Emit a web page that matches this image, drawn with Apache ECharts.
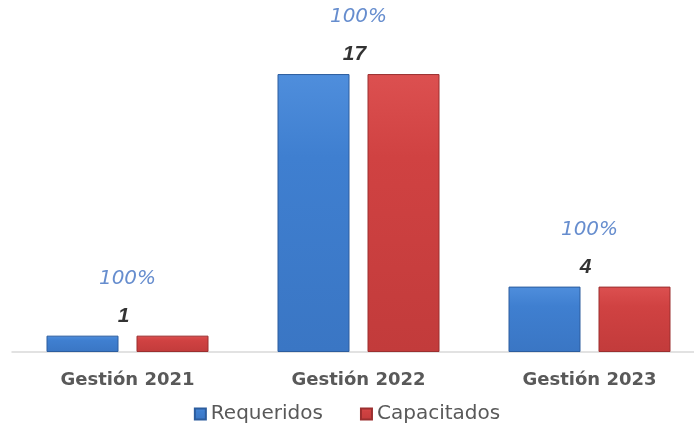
<!DOCTYPE html>
<html>
<head>
<meta charset="utf-8">
<script src="https://cdn.jsdelivr.net/npm/echarts@6/dist/echarts.min.js"></script>
<style>
  html, body { margin: 0; padding: 0; background: #fff; }
  #chart { width: 694px; height: 433px; }
</style>
</head>
<body>
<div id="chart"></div>
<script>
const categories = ['Gestión 2021', 'Gestión 2022', 'Gestión 2023']
const requeridos = [1, 17, 4]
const capacitados = [1, 17, 4]
// porcentaje de cumplimiento = capacitados / requeridos
const percents = requeridos.map((r, i) => Math.round(capacitados[i] / r * 100))

const chart = echarts.init(document.getElementById('chart'))

const grad = (top, mid, bottom) => new echarts.graphic.LinearGradient(0, 0, 0, 1, [
  { offset: 0, color: top },
  { offset: 0.3, color: mid },
  { offset: 1, color: bottom },
])

chart.setOption({
  animation: false,
  grid: { left: 12, right: -11, top: 25, bottom: 81, outerBoundsMode: 'none' },
  legend: {
    bottom: 4,
    left: 'center',
    icon: 'rect',
    itemWidth: 11,
    itemHeight: 11,
    itemGap: 37,
    textStyle: { color: '#595959', fontSize: 20, fontFamily: 'DejaVu Sans' },
    data: ['Requeridos', 'Capacitados'],
  },
  xAxis: {
    type: 'category',
    data: categories,
    axisLine: { lineStyle: { color: '#d9d9d9', width: 1.5 } },
    axisTick: { show: false },
    axisLabel: { color: '#595959', fontSize: 18, fontWeight: 'bold', fontFamily: 'DejaVu Sans', margin: 19 },
  },
  yAxis: { type: 'value', min: 0, max: 20, show: false, splitLine: { show: false } },
  series: [
    {
      name: 'Requeridos',
      type: 'bar',
      barWidth: 72,
      barGap: '25%',
      data: requeridos,
      itemStyle: { color: grad('#4f8edc', '#3f7fd0', '#3a76c4'), borderColor: '#2c5d9e', borderWidth: 1 },
    },
    {
      name: 'Capacitados',
      type: 'bar',
      barWidth: 72,
      data: capacitados,
      itemStyle: { color: grad('#dc5050', '#d04242', '#c23b3b'), borderColor: '#9b2f2f', borderWidth: 1 },
    },
    {
      // etiquetas de valor centradas sobre cada grupo
      type: 'scatter',
      symbolSize: 0,
      silent: true,
      z: 5,
      data: capacitados,
      label: {
        show: true,
        position: 'top',
        distance: 9,
        offset: [-4, 0],
        formatter: p => p.value,
        color: '#000',
        fontSize: 21,
        fontStyle: 'italic',
        fontWeight: 'bold',
        fontFamily: 'Liberation Sans',
      },
    },
    {
      type: 'scatter',
      symbolSize: 0,
      silent: true,
      z: 5,
      data: capacitados,
      label: {
        show: true,
        position: 'top',
        distance: 47,
        formatter: p => percents[p.dataIndex] + '%',
        color: '#4070c2',
        fontSize: 20,
        fontStyle: 'italic',
        fontFamily: 'DejaVu Sans',
      },
    },
  ],
})
</script>
</body>
</html>
